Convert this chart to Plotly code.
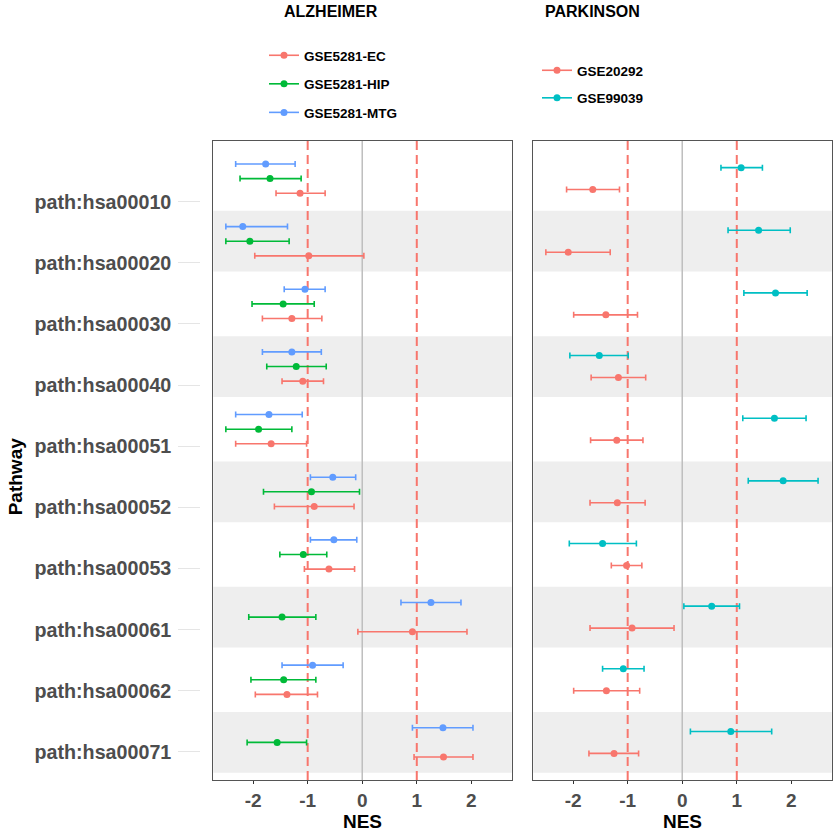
import plotly.graph_objects as go

# ---------------- data ----------------
categories = ["path:hsa00010", "path:hsa00020", "path:hsa00030", "path:hsa00040", "path:hsa00051",
              "path:hsa00052", "path:hsa00053", "path:hsa00061", "path:hsa00062", "path:hsa00071"]

alz_series = ["GSE5281-EC", "GSE5281-HIP", "GSE5281-MTG"]
alz_ec_nes = [-1.14, -0.98, -1.29, -1.09, -1.67, -0.88, -0.61, 0.92, -1.38, 1.49]
alz_ec_lo = [-1.58, -1.97, -1.83, -1.47, -2.32, -1.61, -1.06, -0.08, -1.96, 0.95]
alz_ec_hi = [-0.68, 0.03, -0.74, -0.71, -1.02, -0.15, -0.14, 1.92, -0.82, 2.03]
alz_hip_nes = [-1.69, -2.06, -1.45, -1.21, -1.90, -0.93, -1.08, -1.47, -1.44, -1.56]
alz_hip_lo = [-2.24, -2.50, -2.02, -1.75, -2.50, -1.81, -1.51, -2.08, -2.04, -2.11]
alz_hip_hi = [-1.12, -1.34, -0.88, -0.66, -1.29, -0.05, -0.65, -0.85, -0.85, -1.02]
alz_mtg_nes = [-1.77, -2.19, -1.05, -1.29, -1.71, -0.54, -0.52, 1.26, -0.91, 1.48]
alz_mtg_lo = [-2.32, -2.50, -1.43, -1.83, -2.32, -0.95, -0.95, 0.71, -1.47, 0.92]
alz_mtg_hi = [-1.23, -1.37, -0.68, -0.75, -1.10, -0.12, -0.10, 1.81, -0.35, 2.03]

park_series = ["GSE20292", "GSE99039"]
park_a_nes = [-1.64, -2.09, -1.40, -1.17, -1.20, -1.19, -1.02, -0.92, -1.39, -1.25]
park_a_lo = [-2.12, -2.50, -1.99, -1.67, -1.68, -1.69, -1.30, -1.69, -1.99, -1.71]
park_a_hi = [-1.15, -1.32, -0.82, -0.67, -0.72, -0.68, -0.74, -0.15, -0.78, -0.80]
park_b_nes = [1.08, 1.40, 1.71, -1.52, 1.69, 1.85, -1.46, 0.54, -1.08, 0.89]
park_b_lo = [0.71, 0.84, 1.13, -2.06, 1.11, 1.21, -2.07, 0.03, -1.46, 0.15]
park_b_hi = [1.47, 1.98, 2.29, -0.99, 2.27, 2.49, -0.84, 1.05, -0.70, 1.64]

x_ticks = [-2, -1, 0, 1, 2]
x_ticktext = ["-2", "-1", "0", "1", "2"]

# ---------------- style ----------------
FONT = "Liberation Sans"
C_RED, C_GREEN, C_BLUE, C_TEAL = "#F8766D", "#00BA38", "#619CFF", "#00BFC4"
W, H = 840, 840
DODGE = 0.7

def px_x(p):
    return p / W

def px_y(p):
    return 1 - p / H

fig = go.Figure()

def add_series(name, nes, lo, hi, color, offset, xa, ya, legend):
    ys = [k + offset for k in range(len(categories))]
    fig.add_trace(go.Scatter(
        x=nes, y=ys, mode="markers", name=name, showlegend=False,
        marker=dict(color=color, size=7),
        error_x=dict(type="data", symmetric=False,
                     array=[h - n for h, n in zip(hi, nes)],
                     arrayminus=[n - l for n, l in zip(nes, lo)],
                     color=color, thickness=1.6, width=3),
        xaxis=xa, yaxis=ya, hovertext=categories,
    ))
    # legend key (line + point)
    fig.add_trace(go.Scatter(
        x=[None], y=[None], mode="lines+markers", name=name, legend=legend,
        legendgroup=name,
        line=dict(color=color, width=1.6), marker=dict(color=color, size=7),
        xaxis=xa, yaxis=ya,
    ))

n3 = DODGE / 3
n2 = DODGE / 4
add_series(alz_series[0], alz_ec_nes, alz_ec_lo, alz_ec_hi, C_RED, +n3, "x", "y", "legend")
add_series(alz_series[1], alz_hip_nes, alz_hip_lo, alz_hip_hi, C_GREEN, 0, "x", "y", "legend")
add_series(alz_series[2], alz_mtg_nes, alz_mtg_lo, alz_mtg_hi, C_BLUE, -n3, "x", "y", "legend")
add_series(park_series[0], park_a_nes, park_a_lo, park_a_hi, C_RED, +n2, "x2", "y2", "legend2")
add_series(park_series[1], park_b_nes, park_b_lo, park_b_hi, C_TEAL, -n2, "x2", "y2", "legend2")

# label panel (pathway names)
fig.add_trace(go.Scatter(x=[None], y=[None], xaxis="x3", yaxis="y3", showlegend=False))

# ---------------- shapes ----------------
shapes = []
for xr, yr in (("x", "y"), ("x2", "y2")):
    for k in range(1, len(categories), 2):
        shapes.append(dict(type="rect", xref=f"{xr} domain", yref=yr, x0=0, x1=1,
                           y0=k - 0.485, y1=k + 0.485, fillcolor="#EEEEEE",
                           line=dict(width=0), layer="below"))
    shapes.append(dict(type="line", xref=xr, yref=f"{yr} domain", x0=0, x1=0, y0=0, y1=1,
                       line=dict(color="#BEBEBE", width=1.5), layer="below"))
    for v in (-1, 1):
        shapes.append(dict(type="line", xref=xr, yref=f"{yr} domain", x0=v, x1=v, y0=0, y1=1,
                           line=dict(color=C_RED, width=2, dash="9px,5px"), layer="below"))

panel_y = [px_y(780), px_y(141)]
tickfont = dict(family=FONT, size=19.7, color="#4D4D4D", weight="bold")
xtickfont = dict(family=FONT, size=19, color="#4D4D4D", weight="bold")
titlefont = dict(family=FONT, size=19, color="black", weight="bold")
legfont = dict(family=FONT, size=13.5, color="black", weight="bold")

common_x = dict(range=[-2.73, 2.74], tickvals=x_ticks, ticktext=x_ticktext, showgrid=False,
                zeroline=False, ticks="outside", ticklen=3, tickcolor="#333333", tickwidth=1,
                tickfont=xtickfont, showline=True, mirror=True, linecolor="#555555", linewidth=1,
                title=dict(text="NES", font=titlefont, standoff=0))
common_y = dict(range=[9.6, -0.6], showgrid=False, zeroline=False, showticklabels=False,
                ticks="", showline=True, mirror=True, linecolor="#555555", linewidth=1,
                domain=panel_y)

fig.update_layout(
    width=W, height=H, margin=dict(l=0, r=0, t=0, b=0),
    paper_bgcolor="white", plot_bgcolor="white",
    font=dict(family=FONT),
    shapes=shapes,
    xaxis=dict(domain=[px_x(213.3), px_x(511.7)], anchor="y", **common_x),
    yaxis=dict(anchor="x", **common_y),
    xaxis2=dict(domain=[px_x(533.3), px_x(831.7)], anchor="y2", **common_x),
    yaxis2=dict(anchor="x2", **common_y),
    xaxis3=dict(domain=[px_x(178.3), px_x(199.5)], anchor="y3", visible=False, range=[0, 1]),
    yaxis3=dict(domain=panel_y, anchor="x3", range=[9.459, -0.993],
                tickvals=list(range(len(categories))), ticktext=categories,
                tickfont=tickfont, showgrid=True, gridcolor="#E5E5E5", gridwidth=1,
                zeroline=False, showline=False, ticks="", ticklabelstandoff=6),
    legend=dict(x=px_x(264), y=px_y(40), xanchor="left", yanchor="top",
                font=legfont, itemwidth=30, tracegroupgap=8, bgcolor="rgba(0,0,0,0)"),
    legend2=dict(x=px_x(537), y=px_y(55), xanchor="left", yanchor="top",
                 font=legfont, itemwidth=30, tracegroupgap=7, bgcolor="rgba(0,0,0,0)"),
    annotations=[
        dict(text="ALZHEIMER", x=px_x(331), y=px_y(12), xref="paper", yref="paper",
             xanchor="center", yanchor="middle",
             showarrow=False, font=dict(family=FONT, size=16, color="black", weight="bold")),
        dict(text="PARKINSON", x=px_x(592.5), y=px_y(12), xref="paper", yref="paper",
             xanchor="center", yanchor="middle",
             showarrow=False, font=dict(family=FONT, size=16, color="black", weight="bold")),
        dict(text="Pathway", x=px_x(15.5), y=4.5, xref="paper", yref="y3", textangle=-90,
             xanchor="center", yanchor="middle",
             showarrow=False, font=titlefont),
    ],
)

fig.write_html("out.html", config={"displayModeBar": False},
               post_script="document.body.style.margin='0';document.body.style.overflow='hidden';")
